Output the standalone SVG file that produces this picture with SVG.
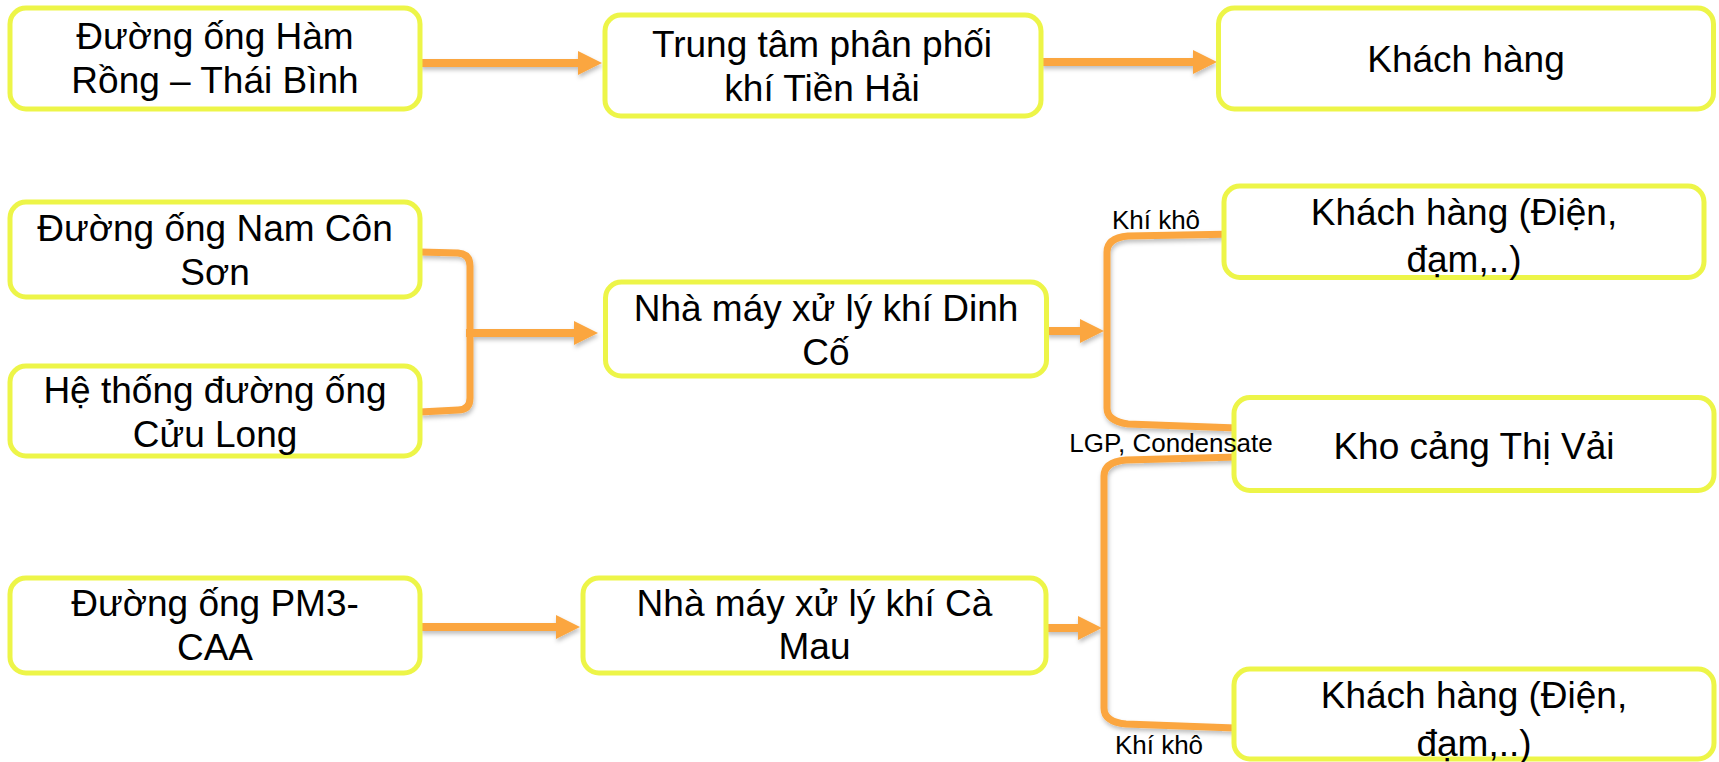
<svg xmlns="http://www.w3.org/2000/svg" width="1719" height="762" viewBox="0 0 1719 762">
  <style>
    .box { fill: #ffffff; stroke: #EDF548; stroke-width: 5; }
    .t { font-family: "Liberation Sans", Arial, Helvetica, sans-serif; font-size: 37px; fill: #000000; text-anchor: middle; }
    .lbl { font-family: "Liberation Sans", Arial, Helvetica, sans-serif; font-size: 26px; fill: #000000; text-anchor: middle; }
    .con { fill: none; stroke: #FBA63F; stroke-width: 8; stroke-linejoin: round; }
    .br { fill: none; stroke: #FBA63F; stroke-width: 7; stroke-linejoin: round; stroke-linecap: butt; }
  </style>
  <defs>
    <marker id="ah" markerWidth="24" markerHeight="24" refX="4" refY="12" orient="auto" markerUnits="userSpaceOnUse">
      <path d="M0,0 L24,12 L0,24 z" fill="#FBA63F"/>
    </marker>
    <filter id="sh" x="-10%" y="-10%" width="120%" height="130%">
      <feDropShadow dx="1" dy="3" stdDeviation="2" flood-color="#000000" flood-opacity="0.25"/>
    </filter>
  </defs>
  <rect width="1719" height="762" fill="#ffffff"/>

  <g id="connectors" filter="url(#sh)">
    <line class="con" x1="420" y1="63" x2="582" y2="63" marker-end="url(#ah)"/>
    <line class="con" x1="1041" y1="62" x2="1197" y2="62" marker-end="url(#ah)"/>
    <path class="br" d="M420 252 L458 253 Q470 254 470 266 L470 398 Q470 410 458 410 L420 412"/>
    <line class="con" x1="466" y1="333" x2="578" y2="333" marker-end="url(#ah)"/>
    <line class="con" x1="1046" y1="331" x2="1084" y2="331" marker-end="url(#ah)"/>
    <path class="br" d="M1237 234 L1128 236 Q1107 238 1107 252 L1107 408 Q1107 421 1128 424 L1237 428"/>
    <line class="con" x1="420" y1="627" x2="560" y2="627" marker-end="url(#ah)"/>
    <line class="con" x1="1046" y1="628" x2="1082" y2="628" marker-end="url(#ah)"/>
    <path class="br" d="M1237 457 L1126 460 Q1104 462 1104 476 L1104 708 Q1104 722 1126 724 L1235 728"/>
  </g>

  <g id="n-hamrong">
    <rect class="box" x="10" y="8" width="410" height="101" rx="16"/>
    <text class="t" x="215" y="49">Đường ống Hàm</text>
    <text class="t" x="215" y="93">Rồng – Thái Bình</text>
  </g>
  <g id="n-tienhai">
    <rect class="box" x="605" y="15" width="436" height="101" rx="16"/>
    <text class="t" x="822" y="57">Trung tâm phân phối</text>
    <text class="t" x="822" y="101">khí Tiền Hải</text>
  </g>
  <g id="n-khachhang-1">
    <rect class="box" x="1218.5" y="8" width="495" height="101" rx="16"/>
    <text class="t" x="1466" y="72">Khách hàng</text>
  </g>
  <g id="n-namconson">
    <rect class="box" x="10" y="202" width="410" height="95" rx="16"/>
    <text class="t" x="215" y="241">Đường ống Nam Côn</text>
    <text class="t" x="215" y="285">Sơn</text>
  </g>
  <g id="n-cuulong">
    <rect class="box" x="10" y="366" width="410" height="90" rx="16"/>
    <text class="t" x="215" y="403">Hệ thống đường ống</text>
    <text class="t" x="215" y="447">Cửu Long</text>
  </g>
  <g id="n-dinhco">
    <rect class="box" x="605.5" y="282" width="441" height="94" rx="16"/>
    <text class="t" x="826" y="321">Nhà máy xử lý khí Dinh</text>
    <text class="t" x="826" y="365">Cố</text>
  </g>
  <g id="n-khachhang-2">
    <rect class="box" x="1224" y="186" width="480" height="91.5" rx="16"/>
    <text class="t" x="1464" y="225">Khách hàng (Điện,</text>
    <text class="t" x="1464" y="272">đạm,..)</text>
  </g>
  <g id="n-thivai">
    <rect class="box" x="1234" y="397.5" width="480" height="93" rx="16"/>
    <text class="t" x="1474" y="459">Kho cảng Thị Vải</text>
  </g>
  <g id="n-pm3">
    <rect class="box" x="10" y="578" width="410" height="95" rx="16"/>
    <text class="t" x="215" y="616">Đường ống PM3-</text>
    <text class="t" x="215" y="660">CAA</text>
  </g>
  <g id="n-camau">
    <rect class="box" x="583" y="578" width="463" height="95" rx="16"/>
    <text class="t" x="814.5" y="616">Nhà máy xử lý khí Cà</text>
    <text class="t" x="814.5" y="659">Mau</text>
  </g>
  <g id="n-khachhang-3">
    <rect class="box" x="1234" y="669" width="480" height="90" rx="16"/>
    <text class="t" x="1474" y="708">Khách hàng (Điện,</text>
    <text class="t" x="1474" y="756">đạm,..)</text>
  </g>

  <g id="labels">
    <text class="lbl" x="1156" y="229">Khí khô</text>
    <text class="lbl" x="1171" y="452">LGP, Condensate</text>
    <text class="lbl" x="1159" y="754">Khí khô</text>
  </g>
</svg>
